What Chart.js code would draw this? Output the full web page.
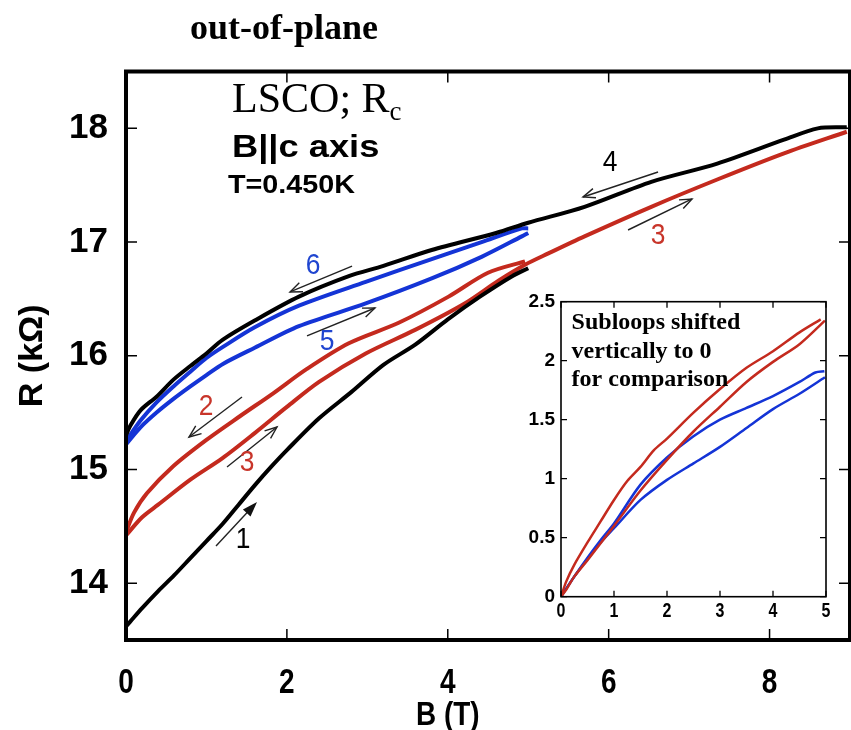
<!DOCTYPE html>
<html><head><meta charset="utf-8">
<script src="https://cdn.jsdelivr.net/npm/chart.js@4/dist/chart.umd.min.js"></script>
<style>
html,body{margin:0;padding:0;background:#fff;}
#wrap{position:relative;width:851px;height:730px;overflow:hidden;}
#main{position:absolute;left:0;top:0;}
#inset{position:absolute;left:520px;top:285px;}
</style></head><body>
<div id="wrap"><canvas id="main" width="851" height="730"></canvas><canvas id="inset" width="320" height="345"></canvas></div>
<script>
// ---------- main panel data: B (T) and R (kOhm) ----------
const sweep1B = [0, 0.05, 0.2, 0.4, 0.6, 0.8, 1.0, 1.2, 1.4, 1.6, 1.8, 2.0, 2.4, 2.8, 3.2, 3.6, 4.0, 4.4, 4.8, 5.0];
const sweep1R = [13.62, 13.66, 13.78, 13.93, 14.07, 14.22, 14.37, 14.52, 14.69, 14.86, 15.02, 15.17, 15.45, 15.68, 15.92, 16.10, 16.32, 16.52, 16.70, 16.77];

const sweep2B = [4.96, 4.5, 4.01, 3.39, 2.77, 2.24, 1.83, 1.42, 1.0, 0.59, 0.26, 0.1, 0];
const sweep2R = [16.83, 16.73, 16.52, 16.29, 16.11, 15.88, 15.67, 15.47, 15.26, 15.03, 14.79, 14.62, 14.45];

const sweep3B = [0, 0.2, 0.4, 0.8, 1.2, 1.6, 2.0, 2.4, 2.98, 3.6, 4.21, 4.63, 4.96, 5.25, 5.7, 6.53, 7.35, 8.18, 8.96];
const sweep3R = [14.42, 14.58, 14.69, 14.91, 15.10, 15.32, 15.55, 15.77, 16.02, 16.23, 16.46, 16.66, 16.80, 16.90, 17.05, 17.31, 17.55, 17.78, 17.97];

const sweep4B = [8.96, 8.6, 8.18, 7.35, 6.53, 5.7, 5.0, 4.6, 3.8, 3.2, 2.77, 2.15, 1.6, 1.2, 1.0, 0.8, 0.59, 0.38, 0.18, 0.05, 0];
const sweep4R = [18.01, 18.0, 17.90, 17.69, 17.53, 17.31, 17.17, 17.08, 16.93, 16.79, 16.70, 16.52, 16.31, 16.14, 16.02, 15.91, 15.79, 15.64, 15.52, 15.38, 15.30];

const sweep5B = [0, 0.18, 0.38, 0.59, 0.8, 1.0, 1.21, 1.6, 2.15, 2.98, 3.8, 4.42, 4.92, 5.0];
const sweep5R = [15.22, 15.37, 15.50, 15.62, 15.73, 15.83, 15.93, 16.07, 16.26, 16.46, 16.68, 16.87, 17.05, 17.08];

const sweep6B = [5.0, 4.92, 4.42, 3.8, 2.98, 2.15, 1.6, 1.21, 1.0, 0.8, 0.59, 0.38, 0.18, 0];
const sweep6R = [17.12, 17.12, 17.0, 16.85, 16.65, 16.44, 16.25, 16.08, 15.98, 15.86, 15.73, 15.59, 15.43, 15.25];

const mainXTicks = [0, 2, 4, 6, 8];
const mainYTicks = [14, 15, 16, 17, 18];

// ---------- inset data: subloops shifted to 0 ----------
const insetRedDownB = [0, 0.1, 0.25, 0.5, 0.75, 1.0, 1.25, 1.5, 1.75, 2.0, 2.5, 3.0, 3.5, 4.0, 4.5, 4.9];
const insetRedDownR = [0, 0.13, 0.27, 0.46, 0.64, 0.82, 0.98, 1.10, 1.24, 1.34, 1.56, 1.76, 1.94, 2.08, 2.24, 2.35];
const insetRedUpB = [0, 0.1, 0.25, 0.5, 1.0, 1.5, 2.0, 2.5, 3.0, 3.5, 4.0, 4.5, 4.98];
const insetRedUpR = [0, 0.06, 0.17, 0.31, 0.60, 0.90, 1.16, 1.40, 1.61, 1.82, 1.99, 2.14, 2.34];
const insetBlueDownB = [0, 0.25, 0.5, 0.75, 1.0, 1.5, 2.0, 2.5, 3.0, 3.5, 4.0, 4.5, 4.8, 4.97];
const insetBlueDownR = [0, 0.17, 0.33, 0.48, 0.62, 0.95, 1.18, 1.36, 1.50, 1.60, 1.70, 1.82, 1.90, 1.91];
const insetBlueUpB = [0, 0.25, 0.5, 0.75, 1.0, 1.5, 2.0, 2.5, 3.0, 3.5, 4.0, 4.5, 4.98];
const insetBlueUpR = [0, 0.17, 0.32, 0.46, 0.58, 0.82, 0.99, 1.13, 1.27, 1.43, 1.59, 1.72, 1.86];

const insetXTicks = [0, 1, 2, 3, 4, 5];
const insetYTicks = [0, 0.5, 1, 1.5, 2, 2.5];

// ---------- styling ----------
const BLACK = '#000000', RED = '#c42a1e', BLUE = '#1434d6';
const RED_TXT = '#c8352a', BLUE_TXT = '#1f45d0';
const SANS = '"Liberation Sans", Arial, sans-serif';
const SERIF = '"Liberation Serif", "Times New Roman", serif';

const pts = (xs, ys) => xs.map((x, i) => ({x, y: ys[i]}));
const ds = (xs, ys, c, w) => ({data: pts(xs, ys), showLine: true, borderColor: c, backgroundColor: c,
  borderWidth: w, pointRadius: 0, tension: 0.3, fill: false});

// annotations (data coordinates of the main panel)
const arrows = [
  {from: [6.614, 17.616], to: [5.681, 17.396], filled: false},
  {from: [6.241, 17.106], to: [7.036, 17.379], filled: false},
  {from: [2.810, 16.789], to: [2.039, 16.561], filled: false},
  {from: [2.250, 16.174], to: [3.095, 16.420], filled: false},
  {from: [1.442, 15.637], to: [0.783, 15.285], filled: false},
  {from: [1.256, 15.022], to: [1.877, 15.373], filled: false},
  {from: [1.119, 14.327], to: [1.629, 14.714], filled: true}
];
const numLabels = [
  {t: '4', at: [6.017, 17.695], c: BLACK},
  {t: '3', at: [6.614, 17.053], c: RED_TXT},
  {t: '6', at: [2.325, 16.789], c: BLUE_TXT},
  {t: '5', at: [2.499, 16.121], c: BLUE_TXT},
  {t: '2', at: [0.995, 15.549], c: RED_TXT},
  {t: '3', at: [1.504, 15.057], c: RED_TXT},
  {t: '1', at: [1.454, 14.380], c: BLACK}
];

// text drawn with a horizontal stretch factor
function textS(ctx, str, x, y, sx, align) {
  ctx.save(); ctx.translate(x, y); ctx.scale(sx, 1); ctx.textAlign = align || 'left';
  ctx.fillText(str, 0, 0); ctx.restore();
}

function drawArrow(ctx, x1, y1, x2, y2, filled) {
  const ang = Math.atan2(y2 - y1, x2 - x1);
  const L = filled ? 16 : 13, W = filled ? 0.33 : 0.38;
  ctx.beginPath(); ctx.moveTo(x1, y1); ctx.lineTo(filled ? x2 - 8 * Math.cos(ang) : x2, filled ? y2 - 8 * Math.sin(ang) : y2); ctx.stroke();
  const ax = x2 + L * Math.cos(ang + Math.PI - W), ay = y2 + L * Math.sin(ang + Math.PI - W);
  const bx = x2 + L * Math.cos(ang + Math.PI + W), by = y2 + L * Math.sin(ang + Math.PI + W);
  ctx.beginPath();
  if (filled) { ctx.moveTo(x2, y2); ctx.lineTo(ax, ay); ctx.lineTo(bx, by); ctx.closePath(); ctx.fill(); }
  else { ctx.moveTo(ax, ay); ctx.lineTo(x2, y2); ctx.lineTo(bx, by); ctx.stroke(); }
}

const mainDecor = {
  id: 'mainDecor',
  afterDatasetsDraw(chart) {
    const {ctx, chartArea: a, scales: {x, y}} = chart;
    ctx.save();
    // tick marks (inward)
    ctx.strokeStyle = '#000'; ctx.lineWidth = 1.5;
    mainXTicks.forEach(v => { if (v === 0) return; const px = x.getPixelForValue(v);
      ctx.beginPath(); ctx.moveTo(px, a.bottom); ctx.lineTo(px, a.bottom - 11);
      ctx.moveTo(px, a.top); ctx.lineTo(px, a.top + 11); ctx.stroke(); });
    mainYTicks.forEach(v => { const py = y.getPixelForValue(v);
      ctx.beginPath(); ctx.moveTo(a.left, py); ctx.lineTo(a.left + 11, py);
      ctx.moveTo(a.right, py); ctx.lineTo(a.right - 11, py); ctx.stroke(); });
    // frame
    ctx.lineWidth = 4; ctx.strokeRect(a.left, a.top, a.right - a.left, a.bottom - a.top);
    // x tick labels and axis title (condensed bold)
    ctx.fillStyle = '#000'; ctx.textBaseline = 'alphabetic';
    ctx.font = 'bold 35px ' + SANS;
    mainXTicks.forEach(v => textS(ctx, String(v), x.getPixelForValue(v), 693, 0.8, 'center'));
    ctx.font = 'bold 34px ' + SANS;
    textS(ctx, 'B (T)', x.getPixelForValue(4), 725, 0.82, 'center');
    // arrows
    ctx.strokeStyle = '#222'; ctx.fillStyle = '#111'; ctx.lineWidth = 1.4;
    arrows.forEach(r => drawArrow(ctx, x.getPixelForValue(r.from[0]), y.getPixelForValue(r.from[1]),
      x.getPixelForValue(r.to[0]), y.getPixelForValue(r.to[1]), r.filled));
    // number labels
    ctx.textBaseline = 'middle';
    ctx.font = '30px ' + SANS;
    numLabels.forEach(l => { ctx.fillStyle = l.c; textS(ctx, l.t, x.getPixelForValue(l.at[0]), y.getPixelForValue(l.at[1]), 0.88, 'center'); });
    // text block
    ctx.fillStyle = '#000'; ctx.textAlign = 'left'; ctx.textBaseline = 'alphabetic';
    const tx = x.getPixelForValue(1.318);
    ctx.font = '42px ' + SERIF;
    const base1 = y.getPixelForValue(18.144);
    ctx.fillText('LSCO; R', tx, base1);
    const w = ctx.measureText('LSCO; R').width;
    ctx.font = '27px ' + SERIF; ctx.fillText('c', tx + w, base1 + 8);
    ctx.font = 'bold 31px ' + SANS; textS(ctx, 'B||c axis', tx, y.getPixelForValue(17.75), 1.17);
    ctx.font = 'bold 25px ' + SANS; textS(ctx, 'T=0.450K', x.getPixelForValue(1.268), y.getPixelForValue(17.43), 1.15);
    // panel label above the frame
    ctx.font = 'bold 36px ' + SERIF; ctx.fillText('out-of-plane', 190, 39);
    ctx.restore();
  }
};

new Chart(document.getElementById('main'), {
  type: 'scatter',
  data: {datasets: [
    ds(sweep1B, sweep1R, BLACK, 4), ds(sweep4B, sweep4R, BLACK, 4),
    ds(sweep3B, sweep3R, RED, 4), ds(sweep2B, sweep2R, RED, 4),
    ds(sweep5B, sweep5R, BLUE, 4), ds(sweep6B, sweep6R, BLUE, 4)
  ]},
  options: {
    responsive: false, animation: false, devicePixelRatio: 1,
    layout: {padding: {top: 71.5, right: 1, left: 0, bottom: 0}},
    plugins: {legend: {display: false}, tooltip: {enabled: false}},
    scales: {
      x: {type: 'linear', min: 0, max: 9,
        afterFit: s => { s.height = 90; },
        afterBuildTicks: s => { s.ticks = mainXTicks.map(v => ({value: v})); },
        grid: {display: false, drawTicks: false}, border: {display: false},
        ticks: {display: false}},
      y: {type: 'linear', min: 13.5, max: 18.5,
        afterFit: s => { s.width = 126; },
        afterBuildTicks: s => { s.ticks = mainYTicks.map(v => ({value: v})); },
        grid: {display: false, drawTicks: false}, border: {display: false},
        ticks: {color: '#000', padding: 18, font: {family: SANS, size: 35, weight: 'bold', lineHeight: 1}},
        title: {display: true, text: 'R (kΩ)', color: '#000', padding: {top: 16, bottom: 0},
          font: {family: SANS, size: 34, weight: 'bold', lineHeight: 1}}}
    }
  },
  plugins: [mainDecor]
});

// ---------- inset ----------
const insetDecor = {
  id: 'insetDecor',
  beforeDatasetsDraw(chart) {
    const {ctx, chartArea: a} = chart;
    ctx.save(); ctx.fillStyle = '#fff'; ctx.fillRect(a.left, a.top, a.right - a.left, a.bottom - a.top); ctx.restore();
  },
  afterDatasetsDraw(chart) {
    const {ctx, chartArea: a, scales: {x, y}} = chart;
    ctx.save();
    ctx.strokeStyle = '#000'; ctx.lineWidth = 1.3;
    insetXTicks.forEach(v => { const px = x.getPixelForValue(v);
      ctx.beginPath(); ctx.moveTo(px, a.bottom); ctx.lineTo(px, a.bottom - 6);
      ctx.moveTo(px, a.top); ctx.lineTo(px, a.top + 6); ctx.stroke(); });
    insetYTicks.forEach(v => { const py = y.getPixelForValue(v);
      ctx.beginPath(); ctx.moveTo(a.left, py); ctx.lineTo(a.left + 6, py);
      ctx.moveTo(a.right, py); ctx.lineTo(a.right - 6, py); ctx.stroke(); });
    ctx.lineWidth = 1.6; ctx.strokeRect(a.left, a.top, a.right - a.left, a.bottom - a.top);
    ctx.fillStyle = '#000'; ctx.textBaseline = 'alphabetic';
    ctx.font = 'bold 20px ' + SANS;
    insetXTicks.forEach(v => textS(ctx, String(v), x.getPixelForValue(v), a.bottom + 20, 0.8, 'center'));
    ctx.font = 'bold 24px ' + SERIF;
    const lx = x.getPixelForValue(0.2);
    ctx.textAlign = 'left';
    ctx.fillText('Subloops shifted', lx, y.getPixelForValue(2.27));
    ctx.fillText('vertically to 0', lx, y.getPixelForValue(2.025));
    ctx.fillText('for comparison', lx, y.getPixelForValue(1.785));
    ctx.restore();
  }
};

new Chart(document.getElementById('inset'), {
  type: 'scatter',
  data: {datasets: [
    ds(insetRedDownB, insetRedDownR, RED, 2.5), ds(insetRedUpB, insetRedUpR, RED, 2.5),
    ds(insetBlueDownB, insetBlueDownR, BLUE, 2.5), ds(insetBlueUpB, insetBlueUpR, BLUE, 2.5)
  ]},
  options: {
    responsive: false, animation: false, devicePixelRatio: 1,
    layout: {padding: {top: 16.7, right: 14, left: 0, bottom: 0}},
    plugins: {legend: {display: false}, tooltip: {enabled: false}},
    scales: {
      x: {type: 'linear', min: 0, max: 5,
        afterFit: s => { s.height = 33.3; },
        afterBuildTicks: s => { s.ticks = insetXTicks.map(v => ({value: v})); },
        grid: {display: false, drawTicks: false}, border: {display: false},
        ticks: {display: false}},
      y: {type: 'linear', min: 0, max: 2.5,
        afterFit: s => { s.width = 41; },
        afterBuildTicks: s => { s.ticks = insetYTicks.map(v => ({value: v})); },
        grid: {display: false, drawTicks: false}, border: {display: false},
        ticks: {color: '#000', padding: 6, callback: v => String(v),
          font: {family: SANS, size: 19, weight: 'bold', lineHeight: 1}}}
    }
  },
  plugins: [insetDecor]
});
</script>
</body></html>
